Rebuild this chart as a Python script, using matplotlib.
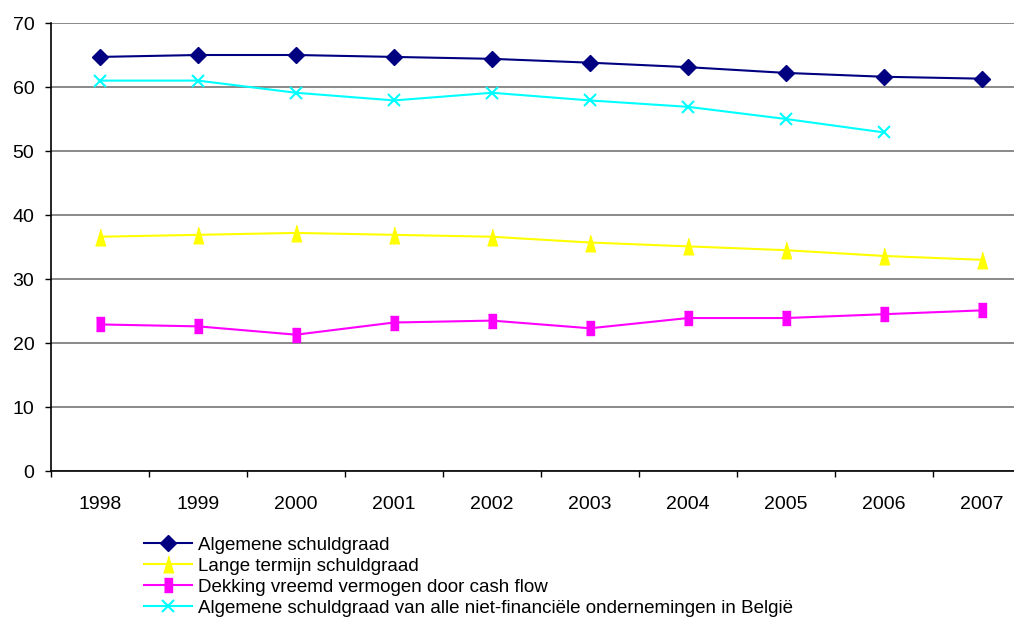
import matplotlib.pyplot as plt
import numpy as np

plt.rcParams['font.family'] = ['Liberation Sans', 'DejaVu Sans']

# Data
years = ['1998', '1999', '2000', '2001', '2002', '2003', '2004', '2005', '2006', '2007']
algemeen = [64.7, 65.0, 65.0, 64.7, 64.4, 63.8, 63.1, 62.2, 61.6, 61.3]
lange_termijn = [36.6, 36.9, 37.2, 36.9, 36.6, 35.7, 35.1, 34.5, 33.6, 33.0]
dekking = [22.9, 22.6, 21.3, 23.2, 23.5, 22.3, 23.9, 23.9, 24.5, 25.1]
belgie = [61.0, 61.0, 59.1, 57.9, 59.1, 57.9, 56.9, 55.0, 52.9]

labels = ['Algemene schuldgraad',
          'Lange termijn schuldgraad',
          'Dekking vreemd vermogen door cash flow',
          'Algemene schuldgraad van alle niet-financiële ondernemingen in België']

# tall, narrow markers like the Excel original
tri = [(-0.6, -1), (0.6, -1), (0, 1)]
sq = [(-0.6, -1), (0.6, -1), (0.6, 1), (-0.6, 1)]

fig = plt.figure(figsize=(10.14, 6.4), dpi=100)
# plot area runs slightly past the right edge of the picture
ax = fig.add_axes([51 / 1014, 1 - 471 / 640, 980 / 1014, 448 / 640])

x = np.arange(len(years))
l1, = ax.plot(x, algemeen, color='#000080', marker='D', markersize=8, lw=1.5)
l2, = ax.plot(x, lange_termijn, color='#FFFF00', marker=tri, markersize=12, lw=1.5)
l3, = ax.plot(x, dekking, color='#FF00FF', marker=sq, markersize=10.5, lw=1.5)
l4, = ax.plot(x[:len(belgie)], belgie, color='#00FFFF', marker='x', markersize=9,
              mew=1.5, lw=1.5)

ax.set_xlim(-0.5, len(years) - 0.5)
ax.set_ylim(0, 70)
ax.set_yticks(range(0, 71, 10))
ax.set_xticks(x)
ax.set_xticklabels(years, fontsize=14)
ax.tick_params(axis='x', length=0, pad=18)
ax.set_xticks(np.arange(-0.5, len(years), 1), minor=True)
ax.tick_params(axis='x', which='minor', length=4.5, width=1, color='black')
ax.tick_params(axis='y', labelsize=14, length=4.5, width=1, color='black', pad=7.5)

ax.grid(axis='y', color='#808080', lw=1.3)
ax.set_axisbelow(True)
for s in ['top', 'right']:
    ax.spines[s].set_visible(False)
ax.spines['left'].set_linewidth(1.2)
ax.spines['bottom'].set_linewidth(1.2)

fig.legend([l1, l2, l3, l4], labels, loc='upper left',
           bbox_to_anchor=(136 / 1014, 1 - 529 / 640), frameon=False,
           fontsize=13.5, handlelength=2.6, handletextpad=0.3,
           labelspacing=0.21, borderaxespad=0)

fig.savefig('out.png', dpi=100)
